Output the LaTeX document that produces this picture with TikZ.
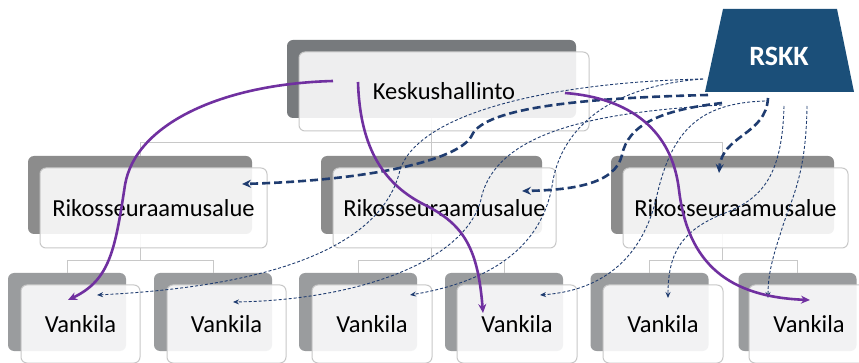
\documentclass[tikz,border=0pt]{standalone}
\usepackage{fontspec}
\setmainfont{Carlito}
\usetikzlibrary{arrows.meta,calc}
\definecolor{purp}{HTML}{7030A0}
\definecolor{navy}{HTML}{1F3C70}
\definecolor{rskkblue}{HTML}{1B4F79}
\definecolor{darkA}{HTML}{777A7D}
\definecolor{darkB}{HTML}{8C8C8C}
\definecolor{darkC}{HTML}{9A9C9E}
\definecolor{treegrey}{HTML}{C8C8C8}
\begin{document}
\begin{tikzpicture}[x=1pt,y=-1pt,
  backbox/.style={draw=none,rounded corners=6pt,inner sep=0pt},
  frontbox/.style={draw=treegrey,line width=1pt,fill=white,fill opacity=0.88,text opacity=1,rounded corners=6pt,inner sep=0pt,font=\fontsize{24.5}{27}\selectfont},
  tree/.style={draw=treegrey,line width=1pt},
  purpline/.style={draw=purp,line width=2.6pt,-{Stealth[length=9pt,width=8pt]}},
  thickdash/.style={draw=navy,line width=2.6pt,dash pattern=on 8pt off 4pt,-{Stealth[length=9pt,width=8pt]}},
  thindash/.style={draw=navy,line width=0.9pt,dash pattern=on 3pt off 2pt,-{Stealth[length=6pt,width=5pt]}}
]
\useasboundingbox (0,0) rectangle (859,363);
\fill[white] (0,0) rectangle (859,363);

% back boxes
\node[backbox,fill=darkA,minimum width=289pt,minimum height=78pt] (kb) at (431.5,79) {};
\node[backbox,fill=darkB,minimum width=224pt,minimum height=78pt] (rlb) at (140,195) {};
\node[backbox,fill=darkB,minimum width=221pt,minimum height=78pt] (rmb) at (431.5,195) {};
\node[backbox,fill=darkB,minimum width=223pt,minimum height=78pt] (rrb) at (722.5,195) {};
\node[backbox,fill=darkC,minimum width=118pt,minimum height=78pt] (v1b) at (67,312) {};
\node[backbox,fill=darkC,minimum width=118pt,minimum height=78pt] (v2b) at (213,312) {};
\node[backbox,fill=darkC,minimum width=118pt,minimum height=78pt] (v3b) at (358,312) {};
\node[backbox,fill=darkC,minimum width=118pt,minimum height=78pt] (v4b) at (504,312) {};
\node[backbox,fill=darkC,minimum width=118pt,minimum height=78pt] (v5b) at (649.5,312) {};
\node[backbox,fill=darkC,minimum width=118pt,minimum height=78pt] (v6b) at (797.5,312) {};

% tree lines
\draw[tree] (kb.south) -- ++(0,24) coordinate (k1);
\draw[tree] (k1) -| (rlb.north);
\draw[tree] (k1) -| (rrb.north);
\draw[tree] (k1) -- (rmb.north);
\draw[tree] (rlb.south) -- ++(0,26) coordinate (l1);
\draw[tree] (l1) -| (v1b.north);
\draw[tree] (l1) -| (v2b.north);
\draw[tree] (rmb.south) -- ++(0,26) coordinate (m1);
\draw[tree] (m1) -| (v3b.north);
\draw[tree] (m1) -| (v4b.north);
\draw[tree] (rrb.south) -- ++(0,26) coordinate (r1);
\draw[tree] (r1) -| (v5b.north);
\draw[tree] (r1) -| (v6b.north);

% front boxes
\node[frontbox,minimum width=290pt,minimum height=79pt] (kesk) at (444,91.5) {Keskushallinto};
\node[frontbox,minimum width=227pt,minimum height=80pt] (rl) at (153.5,208) {Rikosseuraamusalue};
\node[frontbox,minimum width=223pt,minimum height=80pt] (rm) at (444.5,208) {Rikosseuraamusalue};
\node[frontbox,minimum width=225pt,minimum height=80pt] (rr) at (735.5,208) {Rikosseuraamusalue};
\node[frontbox,minimum width=119pt,minimum height=78pt] (v1) at (80.5,324) {Vankila};
\node[frontbox,minimum width=119pt,minimum height=78pt] (v2) at (226.5,324) {Vankila};
\node[frontbox,minimum width=120pt,minimum height=78pt] (v3) at (372,324) {Vankila};
\node[frontbox,minimum width=120pt,minimum height=78pt] (v4) at (517,324) {Vankila};
\node[frontbox,minimum width=120pt,minimum height=78pt] (v5) at (663,324) {Vankila};
\node[frontbox,minimum width=120pt,minimum height=78pt] (v6) at (809,324) {Vankila};

% RSKK
\fill[rskkblue] (723,9) -- (837,9) -- (854,92) -- (705,92) -- cycle;
\node[text=white,font=\fontsize{28}{30}\bfseries] (rskk) at (779,56) {RSKK};

% connector end points
\coordinate (p1s) at (333,81);
\coordinate (p2s) at (358,82);
\coordinate (p3s) at (565,93);
\coordinate (p1e) at (68,300);
\coordinate (p2e) at (483,313);
\coordinate (p3e) at (810,300);

\coordinate (sL1) at (703,79);
\coordinate (sL2) at (708,95);
\coordinate (sL3) at (722,103);
\coordinate (sL4) at (722,105);
\coordinate (sB1) at (768,98);
\coordinate (sB2) at (765,101);
\coordinate (sB3) at (784,106);
\coordinate (sB4) at (807,106);

\coordinate (eRL) at (242,184);
\coordinate (eRM) at (522,191);
\coordinate (eRR) at (719,173);
\coordinate (eV1) at (97,295);
\coordinate (eV2) at (233,302);
\coordinate (eV3) at (410,295);
\coordinate (eV4) at (540,295);
\coordinate (eV5) at (668,298);
\coordinate (eV6) at (768,298);

% thin dashed
\draw[thindash] (sL1) .. controls (560,82) and (420,110) .. (400,170) .. controls (385,235) and (300,285) .. (eV1);
\draw[thindash] (sL4) .. controls (600,112) and (500,130) .. (482,195) .. controls (470,260) and (360,300) .. (eV2);
\draw[thindash] (sL1) .. controls (620,85) and (565,120) .. (553,180) .. controls (545,240) and (500,280) .. (eV3);
\draw[thindash] (sB2) .. controls (700,103) and (672,130) .. (657,195) .. controls (645,250) and (610,290) .. (eV4);
\draw[thindash] (sB3) .. controls (782,180) and (760,200) .. (720,215) .. controls (680,232) and (668,255) .. (eV5);
\draw[thindash] (sB4) .. controls (806,180) and (790,200) .. (780,235) .. controls (770,265) and (768,280) .. (eV6);

% thick dashed
\draw[thickdash] (sL2) .. controls (580,98) and (485,108) .. (472,135) .. controls (462,158) and (380,180) .. (eRL);
\draw[thickdash] (sL3) .. controls (660,110) and (628,125) .. (622,155) .. controls (615,185) and (570,190) .. (eRM);
\draw[thickdash] (sB1) .. controls (766,135) and (722,135) .. (eRR);

% purple
\draw[purpline] (p1s) .. controls (220,84) and (135,125) .. (125,185) .. controls (115,250) and (110,280) .. (p1e);
\draw[purpline] (p2s) .. controls (360,150) and (385,185) .. (425,205) .. controls (465,225) and (478,250) .. (p2e);
\draw[purpline] (p3s) .. controls (630,98) and (672,130) .. (679,190) .. controls (688,265) and (730,297) .. (p3e);
\end{tikzpicture}
\end{document}
